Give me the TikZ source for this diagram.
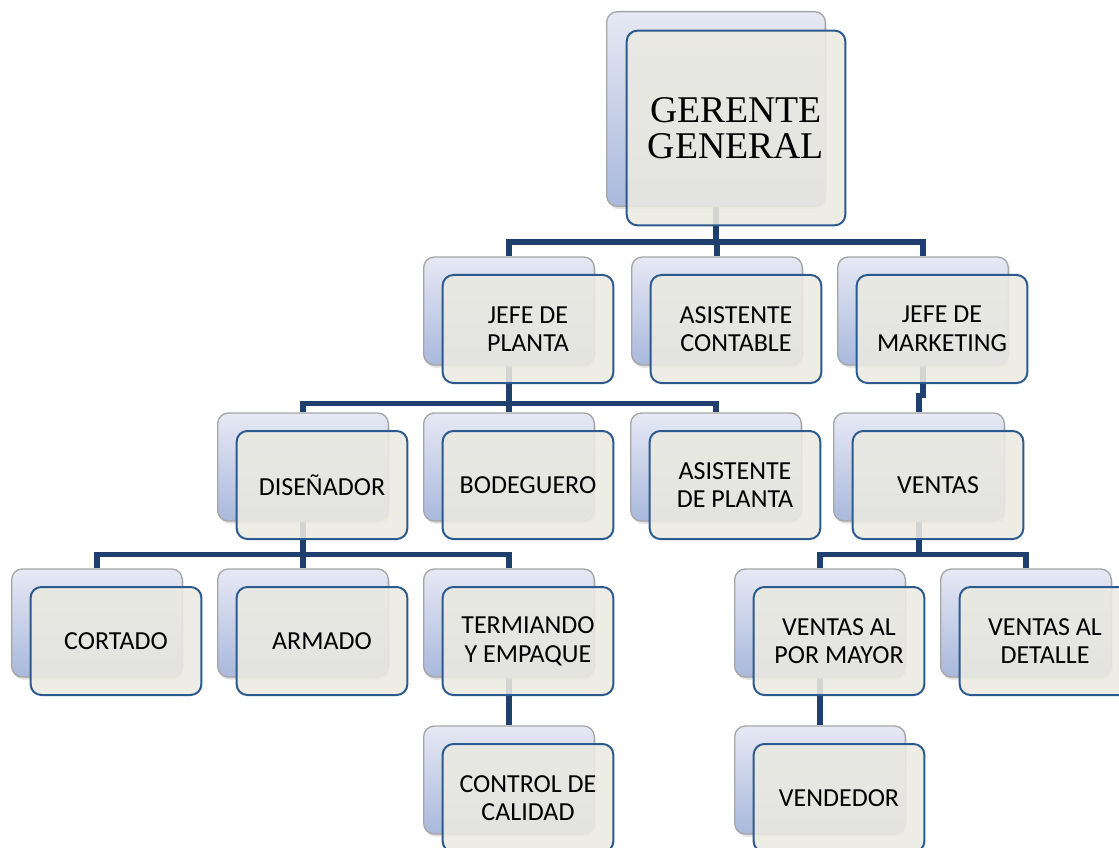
\documentclass[tikz,border=0pt]{standalone}
\usepackage{fontspec}
\setsansfont{Carlito}
\newfontfamily\gerfont{Liberation Serif}
\usetikzlibrary{positioning,shadows,backgrounds}

\definecolor{orgazul}{HTML}{1F3F6E}
\definecolor{cardborde}{HTML}{2B5A8E}
\definecolor{cardfondo}{HTML}{EBEAE2}
\definecolor{backtop}{HTML}{E6E9F4}
\definecolor{backbot}{HTML}{A9B8DC}

\begin{document}
\begin{tikzpicture}[x=0.75pt,y=-0.75pt,
  back/.style={draw=gray!70, line width=1pt, rounded corners=8pt,
               top color=backtop, bottom color=backbot,
               minimum width=128pt, minimum height=81pt,
               drop shadow={shadow xshift=1pt, shadow yshift=-2pt, opacity=0.25}},
  card/.style={draw=cardborde, line width=1.5pt, rounded corners=8pt,
               fill=cardfondo, fill opacity=0.88, text opacity=1,
               minimum width=128pt, minimum height=81pt, align=center,
               font=\sffamily\fontsize{19.5}{21.5}\selectfont},
  big/.style={minimum width=164pt, minimum height=146pt},
  conn/.style={draw=orgazul, line width=4.2pt},
]
  \useasboundingbox (0,0) rectangle (1119,848);

  % gerencia
  \node[back, big] (gerB) at (716,109) {};
  \node[card, big, font=\gerfont\fontsize{28.3}{27}\selectfont] (ger) at ([shift={(20,19)}]gerB) {GERENTE\\GENERAL};

  % jefaturas
  \node[back] (jpB) at (509,311) {};
  \node[card] (jp) at ([shift={(19,18)}]jpB) {JEFE DE\\PLANTA};
  \node[back] (acB) at (717,311) {};
  \node[card] (ac) at ([shift={(19,18)}]acB) {ASISTENTE\\CONTABLE};
  \node[back] (jmB) at (923,311) {};
  \node[card] (jm) at ([shift={(19,18)}]jmB) {JEFE DE\\MARKETING};

  % planta y ventas
  \node[back] (disB) at (303,467) {};
  \node[card] (dis) at ([shift={(19,18)}]disB) {DISEÑADOR};
  \node[back] (bodB) at (509,467) {};
  \node[card] (bod) at ([shift={(19,18)}]bodB) {BODEGUERO};
  \node[back] (apB) at (716,467) {};
  \node[card] (ap) at ([shift={(19,18)}]apB) {ASISTENTE\\DE PLANTA};
  \node[back] (venB) at (919,467) {};
  \node[card] (ven) at ([shift={(19,18)}]venB) {VENTAS};

  % produccion
  \node[back] (corB) at (97,623) {};
  \node[card] (cor) at ([shift={(19,18)}]corB) {CORTADO};
  \node[back] (armB) at (303,623) {};
  \node[card] (arm) at ([shift={(19,18)}]armB) {ARMADO};
  \node[back] (terB) at (509,623) {};
  \node[card] (ter) at ([shift={(19,18)}]terB) {TERMIANDO\\Y EMPAQUE};
  \node[back] (vmayB) at (820,623) {};
  \node[card] (vmay) at ([shift={(19,18)}]vmayB) {VENTAS AL\\POR MAYOR};
  \node[back] (vdetB) at (1026,623) {};
  \node[card] (vdet) at ([shift={(19,18)}]vdetB) {VENTAS AL\\DETALLE};

  % ultimo nivel
  \node[back] (ccB) at (509,780) {};
  \node[card] (cc) at ([shift={(19,18)}]ccB) {CONTROL DE\\CALIDAD};
  \node[back] (vendB) at (820,780) {};
  \node[card] (vend) at ([shift={(19,18)}]vendB) {VENDEDOR};

  \begin{pgfonlayer}{background}
    \draw[conn] (gerB.south) -- ++(0,35) -| (jpB.north);
    \draw[conn] (gerB.south) -- ++(0,35) -| (acB.north);
    \draw[conn] (gerB.south) -- ++(0,35) -| (jmB.north);
    \draw[conn] (jpB.south) -- ++(0,38) -| (disB.north);
    \draw[conn] (jpB.south) -- ++(0,38) -| (bodB.north);
    \draw[conn] (jpB.south) -- ++(0,38) -| (apB.north);
    \draw[conn] (jmB.south) -- ++(0,30) -| (venB.north);
    \draw[conn] (disB.south) -- ++(0,33) -| (corB.north);
    \draw[conn] (disB.south) -- ++(0,33) -| (armB.north);
    \draw[conn] (disB.south) -- ++(0,33) -| (terB.north);
    \draw[conn] (venB.south) -- ++(0,33) -| (vmayB.north);
    \draw[conn] (venB.south) -- ++(0,33) -| (vdetB.north);
    \draw[conn] (terB.south) -- (ccB.north);
    \draw[conn] (vmayB.south) -- (vendB.north);
  \end{pgfonlayer}
\end{tikzpicture}
\end{document}
